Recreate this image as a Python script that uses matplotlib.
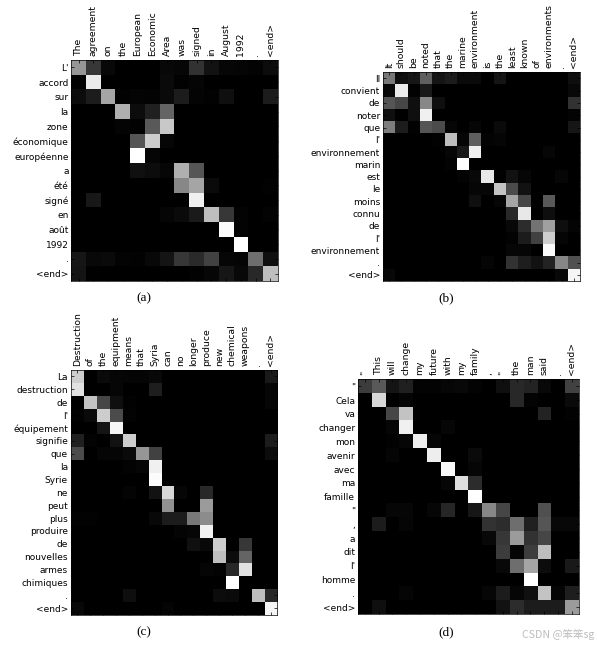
import matplotlib
matplotlib.use("Agg")
import matplotlib.pyplot as plt

W, H = 597, 646

src_a = ['The', 'agreement', 'on', 'the', 'European', 'Economic', 'Area', 'was', 'signed', 'in',
         'August', '1992', '.', '<end>']
tgt_a = ["L'", 'accord', 'sur', 'la', 'zone', 'économique', 'européenne', 'a', 'été', 'signé', 'en',
         'août', '1992', '.', '<end>']
vals_a = [
    [150, 55, 8, 0, 0, 0, 8, 6, 50, 18, 6, 5, 3, 12],
    [2, 235, 0, 0, 0, 0, 10, 2, 5, 0, 0, 0, 0, 0],
    [12, 28, 165, 2, 4, 3, 10, 28, 4, 2, 15, 0, 0, 28],
    [0, 0, 0, 175, 12, 32, 100, 0, 0, 0, 0, 0, 0, 0],
    [0, 0, 0, 4, 2, 90, 200, 0, 0, 0, 0, 0, 0, 0],
    [0, 0, 0, 0, 85, 205, 6, 0, 0, 0, 0, 0, 0, 0],
    [0, 0, 0, 0, 255, 5, 0, 0, 0, 0, 0, 0, 0, 0],
    [0, 0, 0, 0, 16, 12, 6, 175, 85, 0, 0, 0, 0, 0],
    [0, 0, 0, 0, 0, 0, 0, 135, 165, 10, 0, 0, 0, 2],
    [0, 24, 0, 0, 0, 0, 0, 0, 240, 0, 0, 0, 0, 0],
    [0, 0, 0, 0, 0, 0, 5, 10, 26, 190, 55, 3, 0, 3],
    [0, 0, 0, 0, 0, 0, 0, 0, 0, 0, 252, 3, 0, 0],
    [0, 0, 0, 0, 0, 0, 0, 0, 0, 0, 0, 255, 0, 0],
    [22, 8, 10, 3, 2, 8, 20, 55, 42, 65, 6, 5, 110, 15],
    [20, 1, 0, 0, 0, 0, 0, 0, 2, 6, 22, 8, 40, 190],
]

src_b = ['It', 'should', 'be', 'noted', 'that', 'the', 'marine', 'environment', 'is', 'the', 'least',
         'known', 'of', 'environments', '.', '<end>']
tgt_b = ['Il', 'convient', 'de', 'noter', 'que', "l'", 'environnement', 'marin', 'est', 'le', 'moins',
         'connu', 'de', "l'", 'environnement', '.', '<end>']
vals_b = [
    [120, 15, 22, 95, 20, 28, 10, 10, 0, 20, 0, 0, 0, 0, 0, 14],
    [8, 235, 2, 25, 0, 0, 0, 0, 0, 0, 0, 0, 0, 0, 0, 8],
    [85, 70, 15, 135, 15, 0, 0, 0, 0, 0, 0, 0, 0, 0, 0, 50],
    [15, 0, 15, 240, 0, 0, 0, 0, 0, 0, 0, 0, 0, 0, 0, 3],
    [125, 28, 2, 85, 75, 6, 0, 6, 0, 10, 0, 0, 0, 0, 0, 22],
    [0, 0, 0, 0, 2, 190, 6, 95, 3, 5, 0, 0, 0, 0, 0, 0],
    [0, 0, 0, 0, 0, 6, 25, 240, 0, 0, 0, 0, 0, 6, 0, 0],
    [0, 0, 0, 0, 0, 3, 255, 0, 0, 0, 0, 0, 0, 0, 0, 0],
    [0, 0, 0, 0, 0, 0, 3, 8, 232, 2, 18, 6, 0, 0, 6, 0],
    [0, 0, 0, 0, 0, 0, 0, 6, 6, 195, 75, 18, 0, 0, 0, 0],
    [0, 0, 0, 0, 0, 0, 0, 15, 0, 6, 165, 70, 0, 90, 0, 0],
    [0, 0, 0, 0, 0, 0, 0, 0, 0, 0, 40, 232, 0, 14, 0, 0],
    [0, 0, 0, 0, 0, 0, 0, 0, 0, 0, 8, 45, 115, 160, 14, 4],
    [0, 0, 0, 0, 0, 0, 0, 0, 0, 0, 3, 28, 65, 205, 5, 0],
    [0, 0, 0, 0, 0, 0, 0, 0, 0, 0, 6, 6, 0, 250, 0, 0],
    [0, 0, 0, 0, 0, 0, 0, 0, 5, 0, 50, 30, 18, 35, 135, 80],
    [8, 0, 0, 0, 0, 0, 0, 0, 0, 0, 0, 0, 0, 0, 8, 245],
]

src_c = ['Destruction', 'of', 'the', 'equipment', 'means', 'that', 'Syria', 'can', 'no', 'longer',
         'produce', 'new', 'chemical', 'weapons', '.', '<end>']
tgt_c = ['La', 'destruction', 'de', "l'", 'équipement', 'signifie', 'que', 'la', 'Syrie', 'ne', 'peut',
         'plus', 'produire', 'de', 'nouvelles', 'armes', 'chimiques', '.', '<end>']
vals_c = [
    [205, 0, 10, 6, 5, 5, 8, 0, 0, 0, 0, 0, 0, 0, 0, 25],
    [225, 0, 0, 6, 0, 0, 30, 0, 0, 0, 0, 0, 0, 0, 0, 6],
    [0, 195, 70, 15, 2, 0, 0, 0, 0, 0, 0, 0, 0, 0, 0, 6],
    [2, 10, 205, 75, 3, 0, 0, 0, 0, 0, 0, 0, 0, 0, 0, 0],
    [0, 0, 20, 245, 0, 0, 0, 0, 0, 0, 0, 0, 0, 0, 0, 0],
    [32, 3, 0, 18, 205, 0, 0, 0, 0, 0, 0, 0, 0, 0, 0, 28],
    [75, 0, 5, 5, 10, 150, 65, 0, 0, 0, 0, 0, 0, 0, 0, 12],
    [0, 0, 0, 0, 3, 6, 240, 0, 0, 0, 0, 0, 0, 0, 0, 0],
    [0, 0, 0, 0, 0, 0, 252, 0, 0, 0, 0, 0, 0, 0, 0, 0],
    [0, 0, 0, 0, 4, 0, 18, 215, 6, 0, 40, 0, 0, 0, 0, 0],
    [0, 0, 0, 0, 0, 0, 0, 145, 0, 0, 155, 0, 0, 0, 0, 0],
    [2, 2, 0, 0, 0, 0, 8, 28, 28, 120, 140, 0, 0, 0, 0, 0],
    [0, 0, 0, 0, 0, 0, 0, 0, 4, 6, 242, 0, 0, 0, 0, 0],
    [0, 0, 0, 0, 0, 0, 0, 0, 0, 16, 8, 205, 0, 55, 0, 0],
    [0, 0, 0, 0, 0, 0, 0, 0, 0, 0, 0, 190, 12, 100, 0, 0],
    [0, 0, 0, 0, 0, 0, 0, 0, 0, 0, 5, 3, 40, 225, 0, 0],
    [0, 0, 0, 0, 0, 0, 0, 0, 0, 0, 0, 0, 255, 0, 0, 0],
    [0, 0, 0, 0, 14, 0, 0, 0, 0, 0, 0, 12, 10, 0, 190, 40],
    [8, 0, 0, 0, 0, 0, 0, 4, 0, 0, 0, 0, 0, 0, 0, 245],
]

src_d = ['"', 'This', 'will', 'change', 'my', 'future', 'with', 'my', 'family', ',', '"', 'the', 'man',
         'said', '.', '<end>']
tgt_d = ['"', 'Cela', 'va', 'changer', 'mon', 'avenir', 'avec', 'ma', 'famille', '"', ',', 'a', 'dit',
         "l'", 'homme', '.', '<end>']
vals_d = [
    [60, 90, 20, 32, 3, 3, 6, 8, 3, 0, 15, 40, 35, 8, 0, 65],
    [0, 215, 0, 5, 0, 0, 0, 0, 0, 0, 0, 40, 3, 0, 0, 10],
    [0, 0, 70, 195, 0, 0, 0, 0, 0, 0, 0, 0, 0, 35, 0, 2],
    [0, 0, 6, 240, 0, 0, 6, 0, 0, 0, 0, 0, 0, 0, 0, 0],
    [0, 0, 2, 6, 238, 6, 0, 0, 0, 0, 0, 0, 0, 0, 0, 0],
    [0, 0, 5, 0, 0, 238, 0, 0, 10, 0, 0, 0, 0, 0, 0, 0],
    [0, 0, 0, 0, 0, 0, 248, 0, 6, 0, 0, 0, 0, 0, 0, 0],
    [0, 0, 0, 0, 0, 0, 6, 222, 45, 0, 0, 0, 0, 0, 0, 0],
    [0, 0, 0, 0, 0, 0, 0, 0, 255, 0, 0, 0, 0, 0, 0, 0],
    [0, 0, 6, 6, 0, 6, 38, 0, 22, 135, 70, 0, 0, 80, 0, 0],
    [0, 28, 0, 5, 0, 0, 0, 0, 0, 50, 45, 110, 32, 85, 8, 8],
    [0, 0, 0, 0, 0, 0, 0, 0, 0, 8, 55, 155, 50, 70, 0, 0],
    [0, 0, 0, 0, 0, 0, 0, 0, 0, 0, 60, 5, 60, 190, 0, 0],
    [0, 0, 0, 0, 0, 0, 0, 0, 0, 0, 8, 110, 165, 12, 0, 25],
    [0, 0, 0, 0, 0, 0, 0, 0, 0, 0, 0, 0, 255, 0, 0, 0],
    [0, 0, 0, 5, 0, 0, 0, 0, 0, 6, 28, 6, 16, 195, 5, 30],
    [0, 15, 0, 0, 0, 0, 0, 0, 0, 0, 18, 45, 28, 28, 28, 155],
]


def plot_attention(box, src, tgt, vals, caption, cap_x, cap_y):
    # box is left, top, right, bottom in pixels of the picture
    left, top, right, bottom = box
    ax = fig.add_axes([left / W, 1 - bottom / H, (right - left) / W, (bottom - top) / H])
    ax.imshow(vals, cmap='gray', vmin=0, vmax=255, aspect='auto', interpolation='nearest')
    ax.set_xticks(range(len(src)))
    ax.set_xticklabels(src, rotation=90, fontsize=6.7)
    ax.set_yticks(range(len(tgt)))
    ax.set_yticklabels(tgt, fontsize=6.5)
    ax.tick_params(direction='in', length=2, width=0.5, top=True, right=True, bottom=True, left=True,
                   labeltop=True, labelbottom=False)
    ax.tick_params(axis='x', pad=3)
    ax.tick_params(axis='y', pad=2)
    for spine in ax.spines.values():
        spine.set_linewidth(0.5)
    fig.text(cap_x / W, 1 - cap_y / H, caption, family='Liberation Serif', fontsize=9.5, ha='center', va='center')


fig = plt.figure(figsize=(W / 100, H / 100), dpi=100)

plot_attention((71.3, 60, 277.7, 281), src_a, tgt_a, vals_a, '(a)', 144, 298)
plot_attention((383, 72.3, 580, 281), src_b, tgt_b, vals_b, '(b)', 446, 298)
plot_attention((70.7, 370, 277.3, 614.7), src_c, tgt_c, vals_c, '(c)', 144, 632)
plot_attention((358, 379.3, 578.7, 614), src_d, tgt_d, vals_d, '(d)', 446, 632)

fig.text(594 / W, 1 - 635 / H, 'CSDN @笨笨sg', family=['Noto Sans CJK SC', 'DejaVu Sans'], fontsize=7.6,
         color='#bdbdbd', ha='right', va='center')

fig.savefig('out.png', dpi=100)
